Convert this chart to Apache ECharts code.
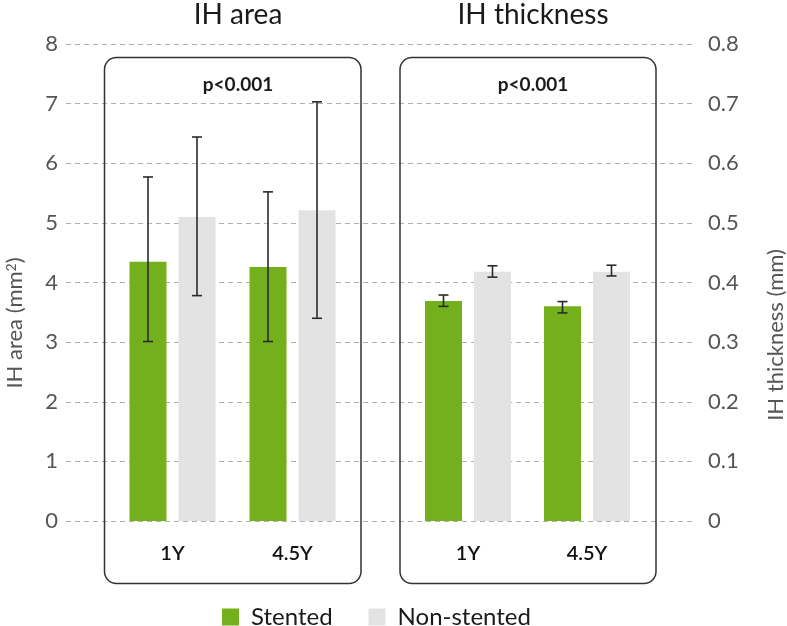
<!DOCTYPE html>
<html>
<head>
<meta charset="utf-8">
<script src="https://cdn.jsdelivr.net/npm/echarts@6/dist/echarts.min.js"></script>
<style>html,body{margin:0;padding:0;background:#fff;}#c{width:787px;height:626px;}</style>
</head>
<body>
<div id="c"></div>
<script>
// ---- data ----
var categories = ['1Y', '4.5Y'];
var seriesNames = ['Stented', 'Non-stented'];
// IH area (mm2)
var areaStented = [4.35, 4.26];
var areaNonStented = [5.10, 5.21];
var areaStentedErr = [[3.01, 5.77], [3.01, 5.52]];
var areaNonStentedErr = [[3.78, 6.44], [3.40, 7.03]];
// IH thickness (mm)
var thickStented = [0.369, 0.360];
var thickNonStented = [0.418, 0.418];
var thickStentedErr = [[0.360, 0.379], [0.349, 0.368]];
var thickNonStentedErr = [[0.409, 0.428], [0.411, 0.429]];
var areaTicks = [0, 8, 1];
var thickTicks = [0, 0.8, 0.1];
var pText = 'p<0.001';

var GREEN = '#74b01b', GRAY = '#e3e3e3';
var FONT = 'Lato, "Open Sans", sans-serif';
var BAR_W = 37, BAR_GAP = 12;

function errData(a, b) {
  var out = [];
  for (var i = 0; i < categories.length; i++) {
    out.push([i, 0, a[i][0], a[i][1]]);
    out.push([i, 1, b[i][0], b[i][1]]);
  }
  return out;
}
function errRender(params, api) {
  var ci = api.value(0), si = api.value(1);
  var lo = api.coord([ci, api.value(2)]);
  var hi = api.coord([ci, api.value(3)]);
  var off = (si === 0 ? -1 : 1) * (BAR_W + BAR_GAP) / 2;
  var x = lo[0] + off, cw = 5;
  var st = { stroke: '#2b2b2b', lineWidth: 1.6 };
  return {
    type: 'group',
    children: [
      { type: 'line', shape: { x1: x, y1: lo[1], x2: x, y2: hi[1] }, style: st },
      { type: 'line', shape: { x1: x - cw, y1: lo[1], x2: x + cw, y2: lo[1] }, style: st },
      { type: 'line', shape: { x1: x - cw, y1: hi[1], x2: x + cw, y2: hi[1] }, style: st }
    ]
  };
}

var chart = echarts.init(document.getElementById('c'), null, { renderer: 'canvas' });
var top0 = 44, h0 = 477;
var catAxis = function (gi) {
  return {
    type: 'category', gridIndex: gi, data: categories,
    axisLine: { show: false }, axisTick: { show: false },
    axisLabel: { margin: 23, fontSize: 20, color: '#111', fontFamily: FONT, fontWeight: 600 }
  };
};
var hiddenVal = function (gi, t) {
  return { type: 'value', gridIndex: gi, min: t[0], max: t[1], interval: t[2], show: false, splitLine: { show: false } };
};

var option = {
  animation: false,
  backgroundColor: '#fff',
  textStyle: { fontFamily: FONT },
  title: [
    { text: 'IH area', left: 233, top: -4, textAlign: 'center', textStyle: { fontSize: 28, fontWeight: 'normal', color: '#1a1a1a', fontFamily: FONT } },
    { text: 'IH thickness', left: 528, top: -4, textAlign: 'center', textStyle: { fontSize: 28, fontWeight: 'normal', color: '#1a1a1a', fontFamily: FONT } },
    { text: pText, left: 233, top: 70, textAlign: 'center', textStyle: { fontSize: 19, fontWeight: 'bold', color: '#1a1a1a', fontFamily: FONT } },
    { text: pText, left: 528, top: 70, textAlign: 'center', textStyle: { fontSize: 19, fontWeight: 'bold', color: '#1a1a1a', fontFamily: FONT } }
  ],
  legend: {
    data: seriesNames, top: 605, left: 222, padding: 0,
    itemWidth: 17, itemHeight: 17, itemGap: 36, icon: 'rect',
    textStyle: { fontSize: 24, color: '#1a1a1a', fontFamily: FONT, padding: [0, 0, 0, 7] }
  },
  grid: [
    { left: 66, width: 629, top: top0, height: h0 },
    { left: 112.5, width: 240, top: top0, height: h0 },
    { left: 408.5, width: 238, top: top0, height: h0 }
  ],
  xAxis: [
    { type: 'category', gridIndex: 0, data: categories, show: false },
    catAxis(1), catAxis(2)
  ],
  yAxis: [
    {
      type: 'value', gridIndex: 0, position: 'left', min: areaTicks[0], max: areaTicks[1], interval: areaTicks[2],
      axisLine: { show: false }, axisTick: { show: false },
      axisLabel: { margin: 8, fontSize: 22, color: '#555', fontFamily: FONT },
      splitLine: { show: true, lineStyle: { color: '#b0b0b0', type: [5, 4], width: 1 } }
    },
    {
      type: 'value', gridIndex: 0, position: 'right', min: thickTicks[0], max: thickTicks[1], interval: thickTicks[2],
      axisLine: { show: false }, axisTick: { show: false },
      axisLabel: { margin: 13, fontSize: 22, color: '#555', fontFamily: FONT, formatter: function (v) { return v === 0 ? '0' : v.toFixed(1); } },
      splitLine: { show: false }
    },
    hiddenVal(1, areaTicks), hiddenVal(2, thickTicks)
  ],
  graphic: [
    { type: 'rect', shape: { x: 104.5, y: 57.5, width: 256.5, height: 526, r: 12 }, style: { fill: 'none', stroke: '#333', lineWidth: 1.5 }, z: 10 },
    { type: 'rect', shape: { x: 400, y: 57.5, width: 256, height: 526, r: 12 }, style: { fill: 'none', stroke: '#333', lineWidth: 1.5 }, z: 10 },
    { type: 'text', x: 15, y: 323, rotation: Math.PI / 2, z: 10,
      style: { text: '{a|IH area (mm}{s|2}{a|)}', align: 'center', verticalAlign: 'middle',
        rich: { a: { fontSize: 22, fill: '#555', fontFamily: FONT }, s: { fontSize: 14, fill: '#555', fontFamily: FONT, verticalAlign: 'top' } } } },
    { type: 'text', x: 776, y: 335, rotation: Math.PI / 2, z: 10,
      style: { text: 'IH thickness (mm)', align: 'center', verticalAlign: 'middle', fontSize: 22, fill: '#555', fontFamily: FONT } }
  ],
  series: [
    { name: seriesNames[0], type: 'bar', xAxisIndex: 1, yAxisIndex: 2, data: areaStented, barWidth: BAR_W, barGap: (BAR_GAP / BAR_W * 100) + '%', itemStyle: { color: GREEN } },
    { name: seriesNames[1], type: 'bar', xAxisIndex: 1, yAxisIndex: 2, data: areaNonStented, barWidth: BAR_W, itemStyle: { color: GRAY } },
    { name: seriesNames[0], type: 'bar', xAxisIndex: 2, yAxisIndex: 3, data: thickStented, barWidth: BAR_W, barGap: (BAR_GAP / BAR_W * 100) + '%', itemStyle: { color: GREEN } },
    { name: seriesNames[1], type: 'bar', xAxisIndex: 2, yAxisIndex: 3, data: thickNonStented, barWidth: BAR_W, itemStyle: { color: GRAY } },
    { type: 'custom', xAxisIndex: 1, yAxisIndex: 2, renderItem: errRender, data: errData(areaStentedErr, areaNonStentedErr), z: 5, silent: true },
    { type: 'custom', xAxisIndex: 2, yAxisIndex: 3, renderItem: errRender, data: errData(thickStentedErr, thickNonStentedErr), z: 5, silent: true }
  ]
};
chart.setOption(option);
</script>
</body>
</html>
